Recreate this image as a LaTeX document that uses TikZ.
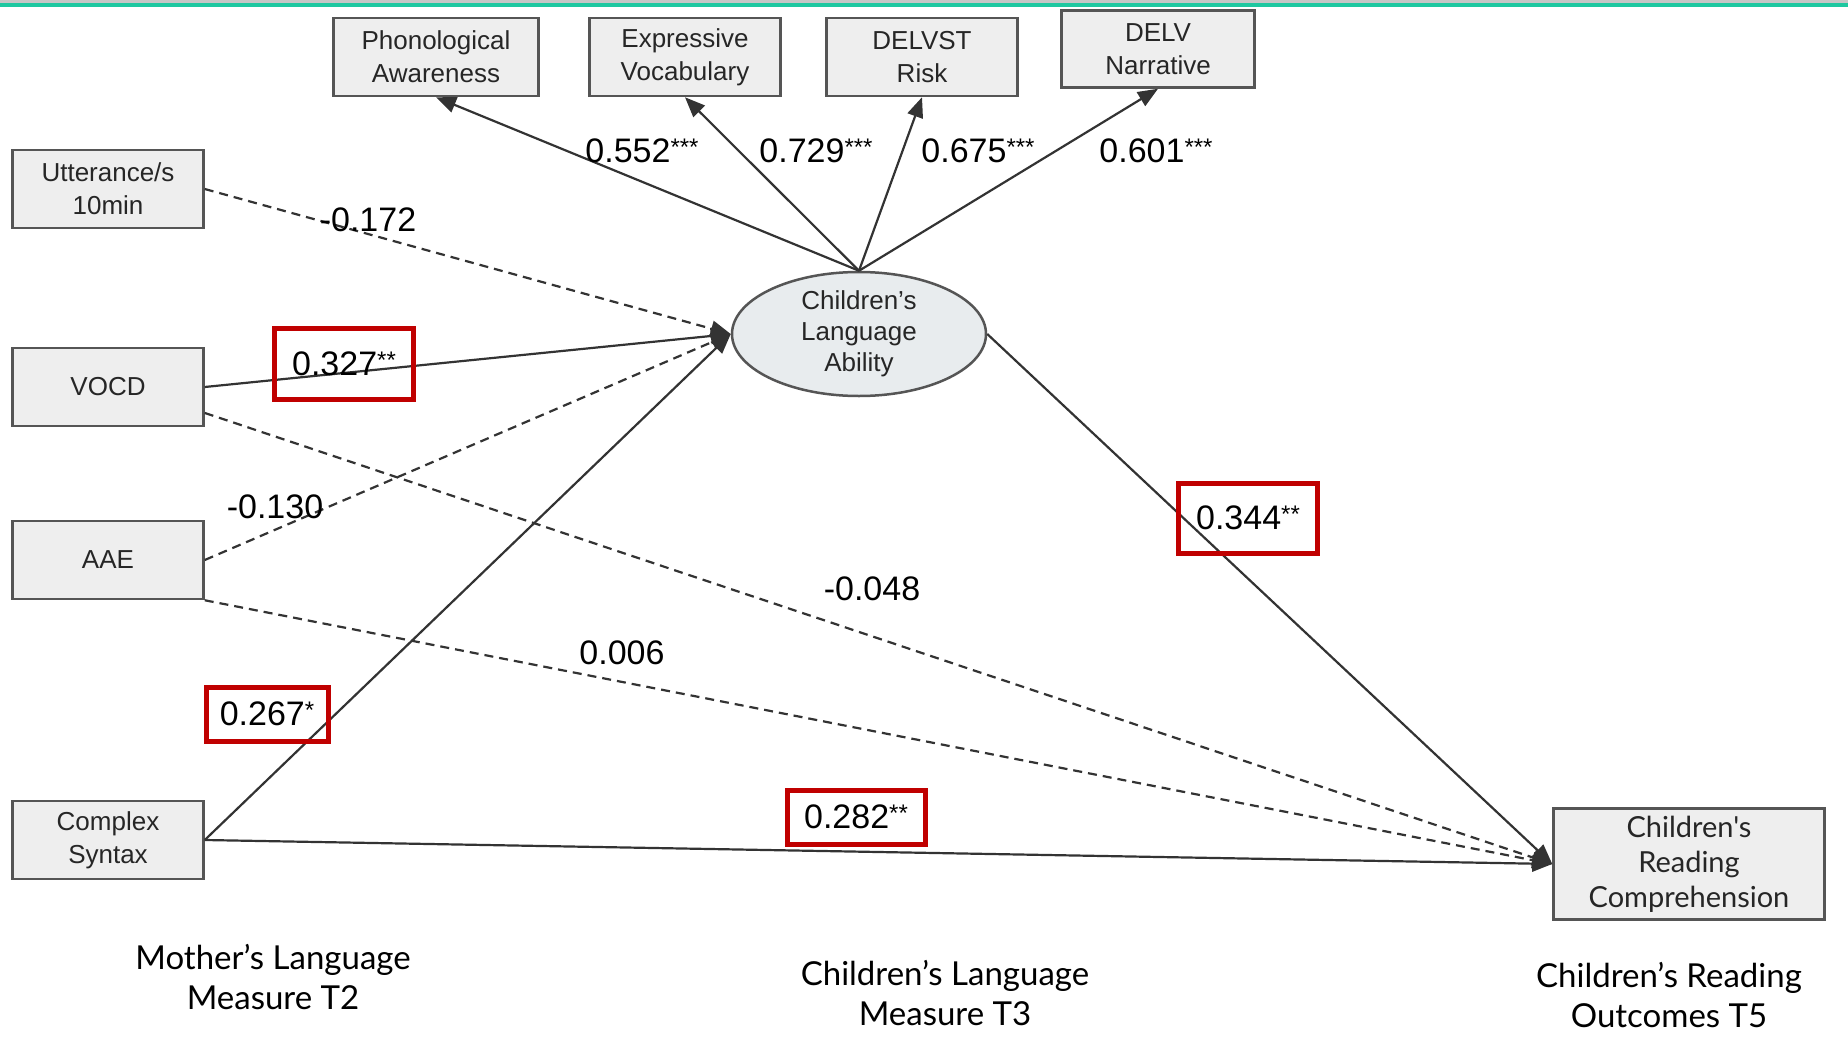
\documentclass[tikz,border=0pt]{standalone}
\usepackage{tikz}
\usepackage{xcolor}
\usepackage{fontspec}
\setmainfont{Liberation Sans}
\newfontfamily\latofont{Lato}
\usetikzlibrary{shapes.geometric, arrows.meta, positioning, calc}
\definecolor{boxgray}{HTML}{EEEEEE}
\definecolor{edgegray}{HTML}{555555}
\definecolor{linegray}{HTML}{333333}
\definecolor{ovalfill}{HTML}{E8ECEE}
\definecolor{hlred}{HTML}{C00000}
\definecolor{topteal}{HTML}{1EC8A0}
\tikzstyle{arrow} = [line width=2.2pt, draw=linegray, -{Triangle[length=20pt, width=16pt]}]
\newcommand{\sig}[1]{\raisebox{7pt}{\fontsize{24}{24}\selectfont #1}}

\begin{document}
\begin{tikzpicture}[x=1pt, y=-1pt]
\tikzstyle{measure} = [rectangle, draw=edgegray, line width=2.5pt, fill=boxgray, minimum width=191pt, minimum height=78pt, align=center, inner sep=0pt, text=black!85, font=\fontsize{26}{33}\selectfont]
\tikzstyle{latent} = [ellipse, draw=edgegray, line width=2.5pt, fill=ovalfill, minimum width=254pt, minimum height=124pt, align=center, inner sep=0pt, text=black!85, font=\fontsize{26}{31}\selectfont]
\tikzstyle{outcome} = [measure, minimum width=271pt, minimum height=111pt, font=\latofont\fontsize{29}{35}\selectfont]
\tikzstyle{weight} = [inner sep=0pt, font=\fontsize{34}{38}\selectfont]
\tikzstyle{hl} = [weight, draw=hlred, line width=5pt, minimum height=54pt]
\tikzstyle{caption} = [align=center, font=\latofont\fontsize{33}{40}\selectfont]
\tikzstyle{dashedarrow} = [arrow, dash pattern=on 9pt off 6pt]

\useasboundingbox (0,0) rectangle (1848,1049);
\fill[gray!45] (0,0) rectangle (1848,3);
\fill[topteal] (0,3) rectangle (1848,7);

% indicators of the latent variable
\node (phon) [measure, minimum width=205pt] at (436,57) {Phonological\\Awareness};
\node (expvocab) [measure] at (685,57) {Expressive\\Vocabulary};
\node (delvst) [measure] at (922,57) {DELVST\\Risk};
\node (delvnarr) [measure, minimum width=193pt, minimum height=77pt] at (1158,49) {DELV\\Narrative};

% mother's language measures
\node (utter) [measure] at (108,189) {Utterance/s\\10min};
\node (vocd) [measure] at (108,387) {VOCD};
\node (aae) [measure] at (108,560) {AAE};
\node (syntax) [measure] at (108,840) {Complex\\Syntax};

\node (langability) [latent] at (859,334) {Children's\\Language\\Ability};
\node (readcomp) [outcome] at (1689,864) {Children's\\Reading\\Comprehension};

\node (capmother) [caption] at (273,977) {Mother’s Language\\Measure T2};
\node (caplang) [caption] at (945,993) {Children’s Language\\Measure T3};
\node (capread) [caption] at (1669,995) {Children’s Reading\\Outcomes T5};

\draw [arrow] (langability.north) -- (phon.south);
\draw [arrow] (langability.north) -- (expvocab.south);
\draw [arrow] (langability.north) -- (delvst.south);
\draw [arrow] (langability.north) -- (delvnarr.south);

\draw [dashedarrow] (utter.east) -- (langability.west);
\draw [arrow] (vocd.east) -- (langability.west);
\draw [dashedarrow] (aae.east) -- (langability.west);
\draw [arrow] (syntax.east) -- (langability.west);

\draw [dashedarrow] (vocd.-15) -- (readcomp.west);
\draw [dashedarrow] (aae.south east) -- (readcomp.west);
\draw [arrow] (syntax.east) -- (readcomp.west);
\draw [arrow] (langability.east) -- (readcomp.west);

% path weights
\node (wphon) [weight] at (642,151) {0.552\sig{***}};
\node (wexpvocab) [weight] at (816,151) {0.729\sig{***}};
\node (wdelvst) [weight] at (978,151) {0.675\sig{***}};
\node (wdelvnarr) [weight] at (1156,151) {0.601\sig{***}};
\node (wutter) [weight] at (368,220) {-0.172};
\node (wvocd) [hl, minimum width=139pt, minimum height=71pt] at (344,364) {0.327\sig{**}};
\node (waae) [weight] at (275,507) {-0.130};
\node (wvocdread) [weight] at (872,589) {-0.048};
\node (waaeread) [weight] at (622,653) {0.006};
\node (wability) [hl, minimum width=139pt, minimum height=70pt] at (1248,518) {0.344\sig{**}};
\node (wsyntax) [hl, minimum width=122pt] at (267,714) {0.267\sig{*}};
\node (wsyntaxread) [hl, minimum width=138pt] at (856,817) {0.282\sig{**}};

\end{tikzpicture}
\end{document}
